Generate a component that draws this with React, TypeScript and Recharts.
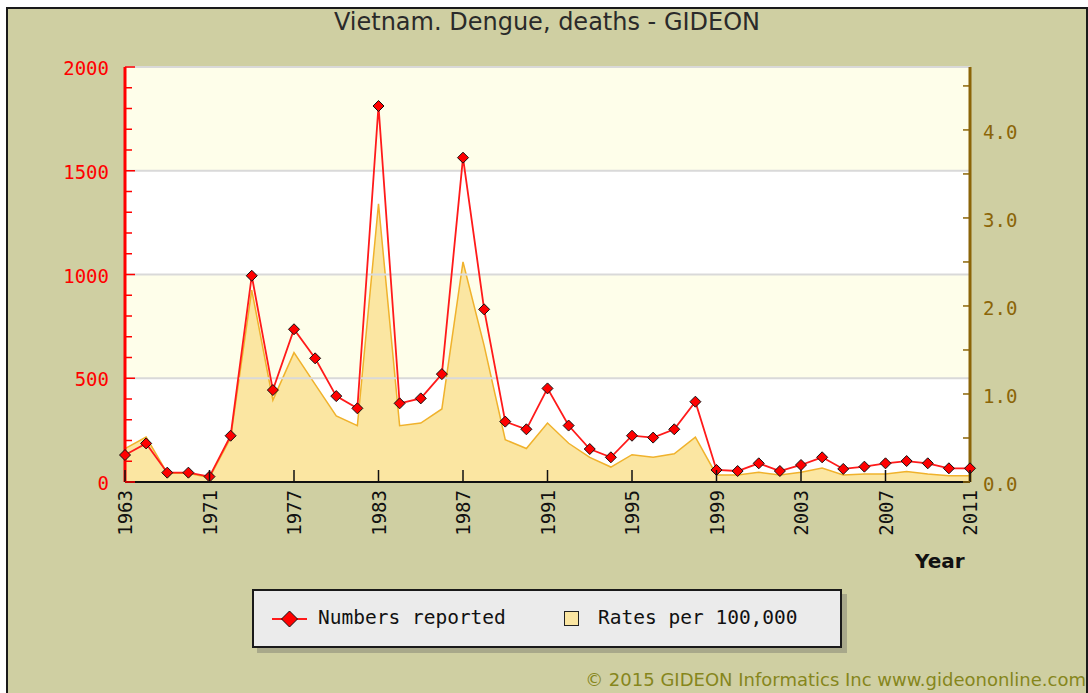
import { ComposedChart, Area, Line, XAxis, YAxis, ReferenceArea, ReferenceLine } from 'recharts'

const years = [
  '1963', '1965', '1967', '1969', '1971', '1973', '1975', '1976', '1977', '1979', '1980', '1981',
  '1983', '1984', '1985', '1986', '1987', '1988', '1989', '1990', '1991', '1992', '1993', '1994',
  '1995', '1996', '1997', '1998', '1999', '2000', '2001', '2002', '2003', '2004', '2005', '2006',
  '2007', '2008', '2009', '2010', '2011',
]
const numbersReported = [
  130, 186, 45, 45, 26, 223, 994, 443, 736, 596, 414, 355,
  1812, 379, 403, 520, 1563, 832, 291, 254, 451, 272, 159, 119,
  223, 214, 254, 387, 58, 53, 90, 53, 82, 119, 63, 74,
  90, 101, 90, 66, 66,
]
const ratesPer100k = [
  0.38, 0.51, 0.10, 0.10, 0.05, 0.50, 2.18, 0.93, 1.47, 1.11, 0.75, 0.64,
  3.16, 0.64, 0.67, 0.83, 2.50, 1.55, 0.48, 0.38, 0.67, 0.44, 0.28, 0.17,
  0.31, 0.28, 0.32, 0.51, 0.08, 0.08, 0.11, 0.08, 0.11, 0.16, 0.08, 0.09,
  0.09, 0.12, 0.09, 0.07, 0.07,
]
const leftTicks = Array.from({ length: 21 }, (_, i) => i * 100)
const rightTicks = [0, 0.5, 1, 1.5, 2, 2.5, 3, 3.5, 4, 4.5]
const gridValues = [500, 1000, 1500, 2000]
const bands = [
  { from: 0, to: 500, fill: '#ffffff' },
  { from: 500, to: 1000, fill: '#fefeea' },
  { from: 1000, to: 1500, fill: '#ffffff' },
  { from: 1500, to: 2000, fill: '#fefeea' },
]

const data = years.map((year, i) => ({
  year,
  numbers: numbersReported[i],
  rate: ratesPer100k[i],
}))

const BG = '#cfcfa2'
const MONO = '"DejaVu Sans Mono", monospace'
const LEFT_M = 16
const RIGHT_M = 13
const X_M = 8

function Diamond(props: any) {
  const { cx, cy } = props
  if (cx == null || cy == null) return null
  const r = 5.5
  return (
    <polygon
      points={`${cx},${cy - r} ${cx + r},${cy} ${cx},${cy + r} ${cx - r},${cy}`}
      fill="#ff0000"
      stroke="#111"
      strokeWidth={1}
    />
  )
}

function LeftTick({ x, y, payload }: any) {
  const v = payload.value as number
  const major = v % 500 === 0
  const ax = x + LEFT_M
  return (
    <g>
      <line x1={ax} x2={ax + (major ? 10 : 7)} y1={y} y2={y} stroke="#ff0000" strokeWidth={1.5} />
      {major && (
        <text x={x} y={y} dy={8} textAnchor="end" fill="#ff0000" fontSize={19} fontFamily={MONO}>
          {v}
        </text>
      )}
    </g>
  )
}

function RightTick({ x, y, payload }: any) {
  const v = payload.value as number
  const major = Number.isInteger(v)
  const ax = x - RIGHT_M
  return (
    <g>
      <line x1={ax - 7} x2={ax} y1={y} y2={y} stroke="#8b6508" strokeWidth={1.5} />
      {major && (
        <text x={x} y={y} dy={9} textAnchor="start" fill="#8b6508" fontSize={19} fontFamily={MONO}>
          {v.toFixed(1)}
        </text>
      )}
    </g>
  )
}

function BottomTick({ x, y, payload }: any) {
  const ay = y - X_M
  return (
    <g>
      <line x1={x} x2={x} y1={ay} y2={ay - 12} stroke="#111" strokeWidth={1.5} />
      <text
        x={x}
        y={y}
        dy={7}
        textAnchor="end"
        transform={`rotate(-90 ${x} ${y})`}
        fill="#111"
        fontSize={19}
        fontFamily={MONO}
      >
        {payload.value}
      </text>
    </g>
  )
}

export default function App() {
  return (
    <div style={{ position: 'absolute', left: 0, top: 0, width: 1088, height: 693, background: '#fff', overflow: 'hidden' }}>
      <div
        style={{
          position: 'absolute', left: 6, top: 7, width: 1082, height: 700, boxSizing: 'border-box',
          background: BG, borderLeft: '2px solid #1a1a1a', borderTop: '2px solid #1a1a1a', borderRight: '2px solid #1a1a1a',
        }}
      />
      <div
        style={{
          position: 'absolute', left: 6, width: 1082, top: 8, textAlign: 'center',
          fontFamily: '"DejaVu Sans", sans-serif', fontSize: 24, color: '#2a2a2a',
        }}
      >
        Vietnam. Dengue, deaths - GIDEON
      </div>

      <div style={{ position: 'absolute', left: 0, top: 0 }}>
        <ComposedChart width={1088} height={693} data={data} margin={{ top: 67, right: 58, bottom: 151, left: 65 }}>
          {bands.map(b => (
            <ReferenceArea key={b.from} yAxisId="left" y1={b.from} y2={b.to} fill={b.fill} fillOpacity={1} stroke="none" ifOverflow="visible" />
          ))}
          {gridValues.map(v => (
            <ReferenceLine key={v} yAxisId="left" y={v} stroke="#d9d9d9" strokeWidth={2} />
          ))}
          <XAxis
            dataKey="year"
            scale="point"
            padding={{ left: 0, right: 0 }}
            interval={3}
            height={60}
            tickSize={0}
            tickMargin={X_M}
            tick={<BottomTick />}
            axisLine={{ stroke: '#111', strokeWidth: 2 }}
          />
          <YAxis
            yAxisId="left"
            domain={[0, 2000]}
            ticks={leftTicks}
            interval={0}
            width={60}
            tickSize={0}
            tickMargin={LEFT_M}
            tick={<LeftTick />}
            axisLine={{ stroke: '#ff0000', strokeWidth: 3 }}
          />
          <YAxis
            yAxisId="right"
            orientation="right"
            domain={[0, 4.715]}
            ticks={rightTicks}
            interval={0}
            width={60}
            tickSize={0}
            tickMargin={RIGHT_M}
            tick={<RightTick />}
            axisLine={{ stroke: '#8b6508', strokeWidth: 3 }}
          />
          <Area
            yAxisId="right"
            type="linear"
            dataKey="rate"
            stroke="#f0b22c"
            strokeWidth={1.5}
            fill="#fbe6a2"
            fillOpacity={1}
            isAnimationActive={false}
          />
          <Line
            yAxisId="left"
            type="linear"
            dataKey="numbers"
            stroke="#ff1a1a"
            strokeWidth={1.8}
            dot={<Diamond />}
            activeDot={false}
            isAnimationActive={false}
          />
        </ComposedChart>
      </div>

      <div
        style={{
          position: 'absolute', left: 915, top: 549, fontFamily: '"DejaVu Sans", sans-serif',
          fontWeight: 'bold', fontSize: 20, color: '#111',
        }}
      >
        Year
      </div>

      <div
        style={{
          position: 'absolute', left: 252, top: 589, width: 590, height: 59, boxSizing: 'border-box',
          background: '#ebebeb', border: '2px solid #1a1a1a', boxShadow: '5px 5px 0 #a8a88a',
          fontFamily: MONO, fontSize: 19.5, color: '#111',
        }}
      >
        <svg width={40} height={20} style={{ position: 'absolute', left: 16, top: 18 }}>
          <line x1={2} x2={37} y1={10} y2={10} stroke="#ff1a1a" strokeWidth={2} />
          <polygon points="19.5,2 27.5,10 19.5,18 11.5,10" fill="#ff0000" stroke="#111" strokeWidth={1} />
        </svg>
        <div style={{ position: 'absolute', left: 64, top: 15 }}>Numbers reported</div>
        <div
          style={{
            position: 'absolute', left: 310, top: 20, width: 15, height: 15, boxSizing: 'border-box',
            background: '#fbe6a2', border: '1.5px solid #222',
          }}
        />
        <div style={{ position: 'absolute', left: 344, top: 15 }}>Rates per 100,000</div>
      </div>

      <div
        style={{
          position: 'absolute', right: 2, top: 669, fontFamily: '"DejaVu Sans", sans-serif',
          fontSize: 18, color: '#86861c', whiteSpace: 'nowrap',
        }}
      >
        © 2015 GIDEON Informatics Inc www.gideononline.com
      </div>
    </div>
  )
}
